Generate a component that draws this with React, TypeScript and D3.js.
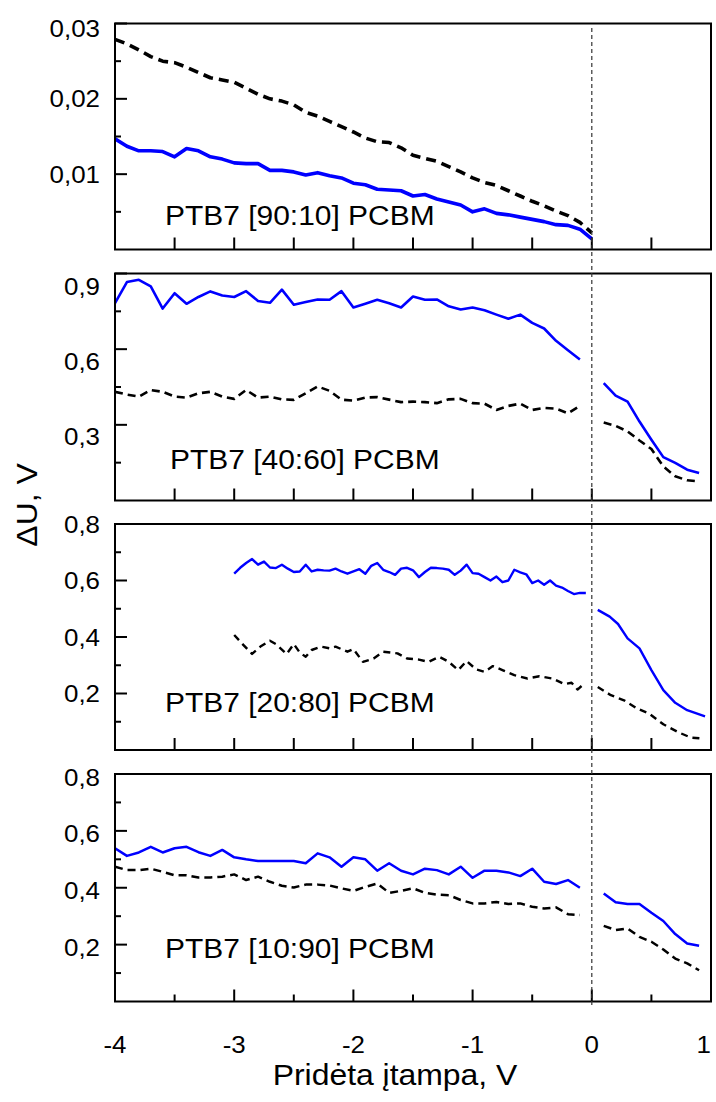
import React from 'react';
import * as d3 from 'd3';

const W = 716;
const H = 1102;
const FONT = '"Liberation Sans", Arial, Helvetica, sans-serif';

// ---------- axis values ----------
const X_DOMAIN = [-4, 1];
const X_MAJOR = [-4, -3, -2, -1, 0, 1];
const X_MINOR = [-3.5, -2.5, -1.5, -0.5, 0.5];
const X_TITLE = 'Pridėta įtampa, V';
const Y_TITLE = 'ΔU, V';

const P1_DOMAIN = [0, 0.03];
const P1_MAJOR = [0.01, 0.02, 0.03];
const P1_MINOR = [0.005, 0.015, 0.025];
const P2_DOMAIN = [0, 0.9];
const P2_MAJOR = [0.3, 0.6, 0.9];
const P2_MINOR = [0.15, 0.45, 0.75];
const P3_DOMAIN = [0, 0.8];
const P3_MAJOR = [0.2, 0.4, 0.6, 0.8];
const P3_MINOR = [0.1, 0.3, 0.5, 0.7];
const P4_DOMAIN = [0, 0.8];
const P4_MAJOR = [0.2, 0.4, 0.6, 0.8];
const P4_MINOR = [0.1, 0.3, 0.5, 0.7];

const LABELS = ['PTB7 [90:10] PCBM', 'PTB7 [40:60] PCBM', 'PTB7 [20:80] PCBM', 'PTB7 [10:90] PCBM'];

// ---------- data ----------
const V_FULL = [-4.0, -3.9, -3.8, -3.7, -3.6, -3.5, -3.4, -3.3, -3.2, -3.1, -3.0, -2.9, -2.8, -2.7, -2.6, -2.5, -2.4, -2.3, -2.2, -2.1, -2.0, -1.9, -1.8, -1.7, -1.6, -1.5, -1.4, -1.3, -1.2, -1.1, -1.0, -0.9, -0.8, -0.7, -0.6, -0.5, -0.4, -0.3, -0.2, -0.1, 0.0];
const V_NEG = [-4.0, -3.9, -3.8, -3.7, -3.6, -3.5, -3.4, -3.3, -3.2, -3.1, -3.0, -2.9, -2.8, -2.7, -2.6, -2.5, -2.4, -2.3, -2.2, -2.1, -2.0, -1.9, -1.8, -1.7, -1.6, -1.5, -1.4, -1.3, -1.2, -1.1, -1.0, -0.9, -0.8, -0.7, -0.6, -0.5, -0.4, -0.3, -0.2, -0.1];
const V_POS = [0.1, 0.2, 0.3, 0.4, 0.5, 0.6, 0.7, 0.8, 0.9];

// panel 1: PTB7 [90:10] PCBM
const P1_BLUE = [0.0147, 0.0137, 0.0131, 0.0131, 0.0130, 0.0123, 0.0134, 0.0131, 0.0123, 0.0120, 0.0115, 0.0114, 0.0114, 0.0105, 0.0105, 0.0103, 0.0099, 0.0102, 0.0098, 0.0095, 0.0088, 0.0086, 0.0080, 0.0079, 0.0078, 0.0071, 0.0073, 0.0067, 0.0063, 0.0059, 0.0050, 0.0054, 0.0048, 0.0046, 0.0043, 0.0040, 0.0037, 0.0033, 0.0032, 0.0027, 0.0014];
const P1_BLACK = [0.0279, 0.0273, 0.0265, 0.0256, 0.0250, 0.0248, 0.0242, 0.0235, 0.0228, 0.0225, 0.0222, 0.0214, 0.0206, 0.0200, 0.0197, 0.0192, 0.0182, 0.0177, 0.0170, 0.0163, 0.0156, 0.0148, 0.0143, 0.0142, 0.0135, 0.0125, 0.0121, 0.0117, 0.0110, 0.0103, 0.0095, 0.0089, 0.0085, 0.0078, 0.0071, 0.0064, 0.0058, 0.0051, 0.0045, 0.0036, 0.0022];

// panel 2: PTB7 [40:60] PCBM
const P2_BLUE_NEG = [0.783, 0.866, 0.875, 0.849, 0.761, 0.822, 0.780, 0.807, 0.829, 0.813, 0.807, 0.830, 0.791, 0.784, 0.836, 0.776, 0.787, 0.797, 0.796, 0.830, 0.765, 0.780, 0.796, 0.782, 0.765, 0.809, 0.796, 0.797, 0.770, 0.757, 0.765, 0.754, 0.737, 0.721, 0.737, 0.704, 0.682, 0.633, 0.596, 0.559];
const P2_BLUE_POS = [0.465, 0.416, 0.392, 0.313, 0.241, 0.172, 0.149, 0.122, 0.109];
const P2_BLACK_NEG = [0.431, 0.420, 0.412, 0.438, 0.431, 0.412, 0.408, 0.425, 0.431, 0.412, 0.403, 0.438, 0.408, 0.412, 0.401, 0.399, 0.425, 0.452, 0.435, 0.400, 0.396, 0.408, 0.410, 0.400, 0.390, 0.392, 0.390, 0.386, 0.401, 0.403, 0.386, 0.384, 0.359, 0.375, 0.384, 0.359, 0.367, 0.364, 0.346, 0.375];
const P2_BLACK_POS = [0.309, 0.296, 0.274, 0.238, 0.204, 0.135, 0.096, 0.080, 0.076];

// panel 3: PTB7 [20:80] PCBM
const P3_V_BLUE_NEG = [-3.00, -2.95, -2.90, -2.85, -2.80, -2.75, -2.70, -2.65, -2.60, -2.55, -2.50, -2.45, -2.40, -2.35, -2.30, -2.25, -2.20, -2.15, -2.10, -2.05, -2.00, -1.95, -1.90, -1.85, -1.80, -1.75, -1.70, -1.65, -1.60, -1.55, -1.50, -1.45, -1.40, -1.35, -1.30, -1.25, -1.20, -1.15, -1.10, -1.05, -1.00, -0.95, -0.90, -0.85, -0.80, -0.75, -0.70, -0.65, -0.60, -0.55, -0.50, -0.45, -0.40, -0.35, -0.30, -0.25, -0.20, -0.15, -0.10, -0.05];
const P3_BLUE_NEG = [0.624, 0.645, 0.662, 0.676, 0.656, 0.667, 0.646, 0.644, 0.656, 0.642, 0.630, 0.632, 0.656, 0.632, 0.638, 0.636, 0.635, 0.642, 0.632, 0.624, 0.632, 0.640, 0.624, 0.652, 0.662, 0.638, 0.630, 0.620, 0.642, 0.645, 0.636, 0.612, 0.630, 0.645, 0.644, 0.642, 0.638, 0.620, 0.635, 0.656, 0.626, 0.624, 0.612, 0.600, 0.614, 0.594, 0.600, 0.638, 0.629, 0.622, 0.591, 0.600, 0.585, 0.600, 0.582, 0.575, 0.563, 0.552, 0.556, 0.556];
const P3_V_BLUE_POS = [0.05, 0.15, 0.22, 0.30, 0.40, 0.50, 0.60, 0.70, 0.80, 0.95];
const P3_BLUE_POS = [0.496, 0.472, 0.446, 0.395, 0.360, 0.283, 0.212, 0.167, 0.141, 0.119];
const P3_V_BLACK_NEG = [-3.0, -2.93, -2.85, -2.78, -2.7, -2.65, -2.56, -2.5, -2.45, -2.4, -2.35, -2.27, -2.2, -2.15, -2.05, -2.0, -1.92, -1.83, -1.75, -1.63, -1.55, -1.45, -1.37, -1.28, -1.2, -1.12, -1.05, -0.97, -0.9, -0.83, -0.74, -0.65, -0.54, -0.44, -0.33, -0.23, -0.17, -0.12, -0.06];
const P3_BLACK_NEG = [0.407, 0.375, 0.340, 0.366, 0.387, 0.375, 0.340, 0.375, 0.345, 0.330, 0.354, 0.366, 0.360, 0.366, 0.348, 0.357, 0.312, 0.324, 0.348, 0.342, 0.324, 0.320, 0.312, 0.330, 0.312, 0.283, 0.315, 0.285, 0.277, 0.297, 0.281, 0.265, 0.253, 0.261, 0.253, 0.233, 0.238, 0.214, 0.236];
const P3_V_BLACK_POS = [0.05, 0.16, 0.27, 0.38, 0.48, 0.60, 0.72, 0.83, 0.94];
const P3_BLACK_POS = [0.223, 0.194, 0.176, 0.147, 0.129, 0.091, 0.064, 0.044, 0.040];

// panel 4: PTB7 [10:90] PCBM
const P4_BLUE_NEG = [0.539, 0.512, 0.524, 0.544, 0.524, 0.539, 0.544, 0.525, 0.512, 0.533, 0.507, 0.500, 0.494, 0.494, 0.494, 0.494, 0.486, 0.521, 0.507, 0.474, 0.507, 0.500, 0.460, 0.486, 0.460, 0.447, 0.467, 0.462, 0.447, 0.474, 0.435, 0.460, 0.460, 0.454, 0.441, 0.467, 0.421, 0.413, 0.427, 0.400];
const P4_BLUE_POS = [0.380, 0.349, 0.343, 0.343, 0.312, 0.283, 0.237, 0.204, 0.196];
const P4_BLACK_NEG = [0.474, 0.462, 0.462, 0.467, 0.456, 0.444, 0.444, 0.436, 0.436, 0.439, 0.447, 0.427, 0.439, 0.421, 0.407, 0.401, 0.411, 0.411, 0.408, 0.398, 0.389, 0.403, 0.415, 0.382, 0.389, 0.398, 0.382, 0.376, 0.374, 0.357, 0.345, 0.345, 0.350, 0.343, 0.345, 0.333, 0.327, 0.331, 0.307, 0.304];
const P4_BLACK_POS = [0.266, 0.251, 0.257, 0.227, 0.210, 0.183, 0.151, 0.134, 0.110];

// ---------- layout ----------
const LEFT = 115;
const RIGHT = 711;
const xScale = d3.scaleLinear().domain(X_DOMAIN).range([LEFT, RIGHT]);

type Seg = { v: number[]; y: number[] };
type Series = { segs: Seg[]; color: string; width: number; dash?: string };

const BLUE = '#0000ff';
const BLACK = '#000000';

const panels = [
  {
    top: 23.5, bottom: 249.5, domain: P1_DOMAIN, major: P1_MAJOR, minor: P1_MINOR, fmt: '.2f',
    labelShift: [0, 0, 5], label: LABELS[0], lx: 165, ly: 225, xMinorLen: 12,
    series: [
      { segs: [{ v: V_FULL, y: P1_BLACK }], color: BLACK, width: 3.6, dash: '10,6' },
      { segs: [{ v: V_FULL, y: P1_BLUE }], color: BLUE, width: 3.6 },
    ] as Series[],
  },
  {
    top: 273.5, bottom: 500.5, domain: P2_DOMAIN, major: P2_MAJOR, minor: P2_MINOR, fmt: '.1f',
    labelShift: [12, 12, 13], label: LABELS[1], lx: 170, ly: 469, xMinorLen: 12,
    series: [
      { segs: [{ v: V_NEG, y: P2_BLACK_NEG }, { v: V_POS, y: P2_BLACK_POS }], color: BLACK, width: 2.6, dash: '8,5' },
      { segs: [{ v: V_NEG, y: P2_BLUE_NEG }, { v: V_POS, y: P2_BLUE_POS }], color: BLUE, width: 2.6 },
    ] as Series[],
  },
  {
    top: 524, bottom: 750, domain: P3_DOMAIN, major: P3_MAJOR, minor: P3_MINOR, fmt: '.1f',
    labelShift: [0, 0, 0, 0], label: LABELS[2], lx: 165, ly: 712, xMinorLen: 12,
    series: [
      { segs: [{ v: P3_V_BLACK_NEG, y: P3_BLACK_NEG }, { v: P3_V_BLACK_POS, y: P3_BLACK_POS }], color: BLACK, width: 2.4, dash: '7,5' },
      { segs: [{ v: P3_V_BLUE_NEG, y: P3_BLUE_NEG }, { v: P3_V_BLUE_POS, y: P3_BLUE_POS }], color: BLUE, width: 2.4 },
    ] as Series[],
  },
  {
    top: 774, bottom: 1001.5, domain: P4_DOMAIN, major: P4_MAJOR, minor: P4_MINOR, fmt: '.1f',
    labelShift: [3, 3, 3, 3], label: LABELS[3], lx: 165, ly: 958, xMinorLen: 7,
    series: [
      { segs: [{ v: V_NEG, y: P4_BLACK_NEG }, { v: V_POS, y: P4_BLACK_POS }], color: BLACK, width: 2.5, dash: '8,5' },
      { segs: [{ v: V_NEG, y: P4_BLUE_NEG }, { v: V_POS, y: P4_BLUE_POS }], color: BLUE, width: 2.5 },
    ] as Series[],
  },
];

const TICK_FONT = 24;
const SX = 1.08;

export default function App() {
  return (
    <svg
      width={W}
      height={H}
      viewBox={`0 0 ${W} ${H}`}
      style={{ position: 'absolute', left: 0, top: 0, background: '#fff' }}
      fontFamily={FONT}
    >
      <rect x={0} y={0} width={W} height={H} fill="#fff" />
      <defs>
        {panels.map((p, i) => (
          <clipPath id={`clip${i}`} key={i}>
            <rect x={LEFT} y={p.top} width={RIGHT - LEFT} height={p.bottom - p.top} />
          </clipPath>
        ))}
      </defs>

      {panels.map((p, i) => {
        const y = d3.scaleLinear().domain(p.domain).range([p.bottom, p.top]);
        const fmt = d3.format(p.fmt);
        return (
          <g key={i}>
            <g clipPath={`url(#clip${i})`}>
              {p.series.map((s, si) =>
                s.segs.map((seg, gi) => {
                  const pts = seg.v.map((v, k) => [v, seg.y[k]] as [number, number]);
                  const line = d3
                    .line<[number, number]>()
                    .x((d) => xScale(d[0]))
                    .y((d) => y(d[1]));
                  return (
                    <path
                      key={`${si}-${gi}`}
                      d={line(pts) || ''}
                      fill="none"
                      stroke={s.color}
                      strokeWidth={s.width}
                      strokeDasharray={s.dash}
                      strokeLinejoin="round"
                    />
                  );
                })
              )}
            </g>
            {/* x ticks */}
            {X_MAJOR.map((t) => (
              <line key={`xM${t}`} x1={xScale(t)} x2={xScale(t)} y1={p.bottom} y2={p.bottom - 12} stroke="#000" strokeWidth={2} />
            ))}
            {X_MINOR.map((t) => (
              <line key={`xm${t}`} x1={xScale(t)} x2={xScale(t)} y1={p.bottom} y2={p.bottom - p.xMinorLen} stroke="#000" strokeWidth={2} />
            ))}
            {/* y ticks */}
            {p.major.map((t) => (
              <line key={`yM${t}`} x1={LEFT} x2={LEFT + 12} y1={y(t)} y2={y(t)} stroke="#000" strokeWidth={2} />
            ))}
            {p.minor.map((t) => (
              <line key={`ym${t}`} x1={LEFT} x2={LEFT + 6} y1={y(t)} y2={y(t)} stroke="#000" strokeWidth={2} />
            ))}
            {p.major.map((t, k) => (
              <text
                key={`yl${t}`}
                transform={`translate(100,${y(t) + p.labelShift[k] + 8.6}) scale(${SX},1)`}
                textAnchor="end"
                fontSize={TICK_FONT}
                fill="#000"
              >
                {fmt(t).replace('.', ',')}
              </text>
            ))}
            <rect x={LEFT} y={p.top} width={RIGHT - LEFT} height={p.bottom - p.top} fill="none" stroke="#000" strokeWidth={2} />
            <text transform={`translate(${p.lx},${p.ly}) scale(1.07,1)`} fontSize={28} fill="#000">
              {p.label}
            </text>
          </g>
        );
      })}

      {/* zero voltage reference line */}
      <line
        x1={xScale(0)}
        x2={xScale(0)}
        y1={28}
        y2={1005}
        stroke="#333"
        strokeWidth={1.2}
        strokeDasharray="4,3"
      />

      {/* x tick labels (the last one is kept inside the page edge) */}
      {X_MAJOR.map((t, k) => {
        const last = k === X_MAJOR.length - 1;
        const px = last ? Math.min(xScale(t), W - 3) : xScale(t);
        return (
          <text
            key={`xl${t}`}
            transform={`translate(${px},1053) scale(${SX},1)`}
            textAnchor={last ? 'end' : 'middle'}
            fontSize={TICK_FONT}
            fill="#000"
          >
            {t}
          </text>
        );
      })}

      <text transform={`translate(395,1085) scale(1.1,1)`} textAnchor="middle" fontSize={29} fill="#000">
        {X_TITLE}
      </text>
      <text transform={`translate(37,505) rotate(-90) scale(1.1,1)`} textAnchor="middle" fontSize={29} fill="#000">
        {Y_TITLE}
      </text>
    </svg>
  );
}
